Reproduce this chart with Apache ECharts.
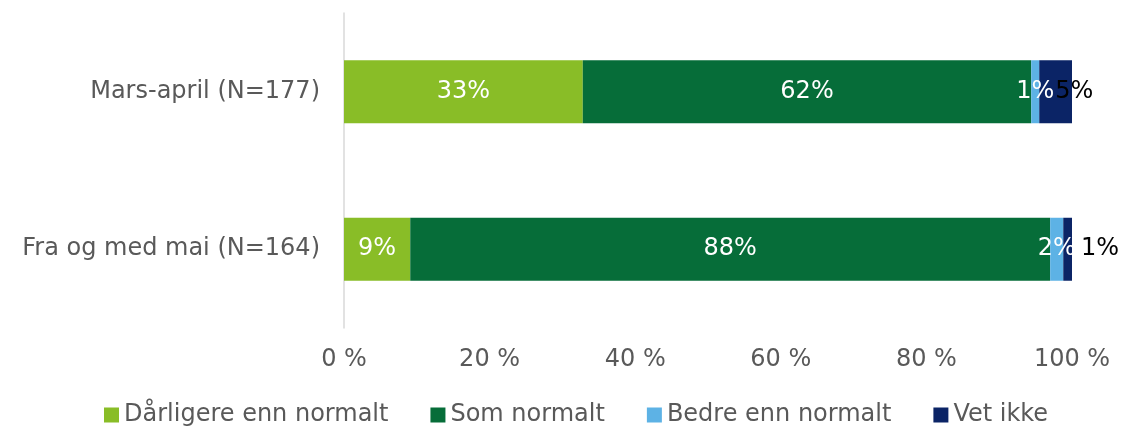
<!DOCTYPE html>
<html>
<head>
<meta charset="utf-8">
<script src="https://cdn.jsdelivr.net/npm/echarts@6/dist/echarts.min.js"></script>
<style>
  body { margin: 0; padding: 0; background: #fff; }
  #chart { width: 1122px; height: 426px; }
</style>
</head>
<body>
<div id="chart"></div>
<script>
// categories, top to bottom
const categories = ["Mars-april (N=177)", "Fra og med mai (N=164)"];
const seriesNames = ["Dårligere enn normalt", "Som normalt", "Bedre enn normalt", "Vet ikke"];
// shares in percent
const darligere = [32.8, 9.1];
const somNormalt = [61.6, 87.9];
const bedre = [1.1, 1.8];
const vetIkke = [4.5, 1.2];
const xTicks = [0, 20, 40, 60, 80, 100];

const colors = ["#89BD27", "#066D39", "#5DB2E5", "#0B2466"];
const labelFont = "DejaVu Sans";

function makeSeries(name, values, color, labelColor) {
  return {
    name: name,
    type: "bar",
    stack: "total",
    barCategoryGap: "60%",
    itemStyle: { color: color },
    label: {
      show: true,
      position: "inside",
      color: labelColor,
      fontFamily: labelFont,
      fontSize: 24,
      formatter: (p) => Math.round(p.value) + "%",
    },
    data: values.map((v) => v),
  };
}

const seriesList = [
  makeSeries(seriesNames[0], darligere, colors[0], "#fff"),
  makeSeries(seriesNames[1], somNormalt, colors[1], "#fff"),
  makeSeries(seriesNames[2], bedre, colors[2], "#fff"),
  makeSeries(seriesNames[3], vetIkke, colors[3], "#000"),
];
// the "Vet ikke" labels sit to the right of the small segments
seriesList[3].data = [
  { value: vetIkke[0], label: { position: "insideLeft", distance: 16 } },
  { value: vetIkke[1], label: { position: "right", distance: 9 } },
];

const chart = echarts.init(document.getElementById("chart"));
chart.setOption({
  animation: false,
  textStyle: { fontFamily: labelFont },
  grid: { left: 344, right: 50, top: 13, bottom: 98, containLabel: false },
  legend: {
    top: 398,
    left: 99,
    icon: "rect",
    itemWidth: 15,
    itemHeight: 15,
    itemGap: 42,
    textStyle: { color: "#595959", fontSize: 24, fontFamily: labelFont },
    data: seriesNames,
  },
  xAxis: {
    type: "value",
    min: 0,
    max: 100,
    interval: 20,
    axisLine: { show: false },
    axisTick: { show: false },
    splitLine: { show: false },
    axisLabel: {
      color: "#595959",
      fontSize: 24,
      margin: 20,
      formatter: (v) => (xTicks.includes(v) ? v + " %" : ""),
    },
  },
  yAxis: {
    type: "category",
    inverse: true,
    data: categories,
    axisLine: { show: true, lineStyle: { color: "#d9d9d9", width: 1.5 } },
    axisTick: { show: false },
    axisLabel: { color: "#595959", fontSize: 24, margin: 24 },
  },
  series: seriesList,
});
</script>
</body>
</html>
